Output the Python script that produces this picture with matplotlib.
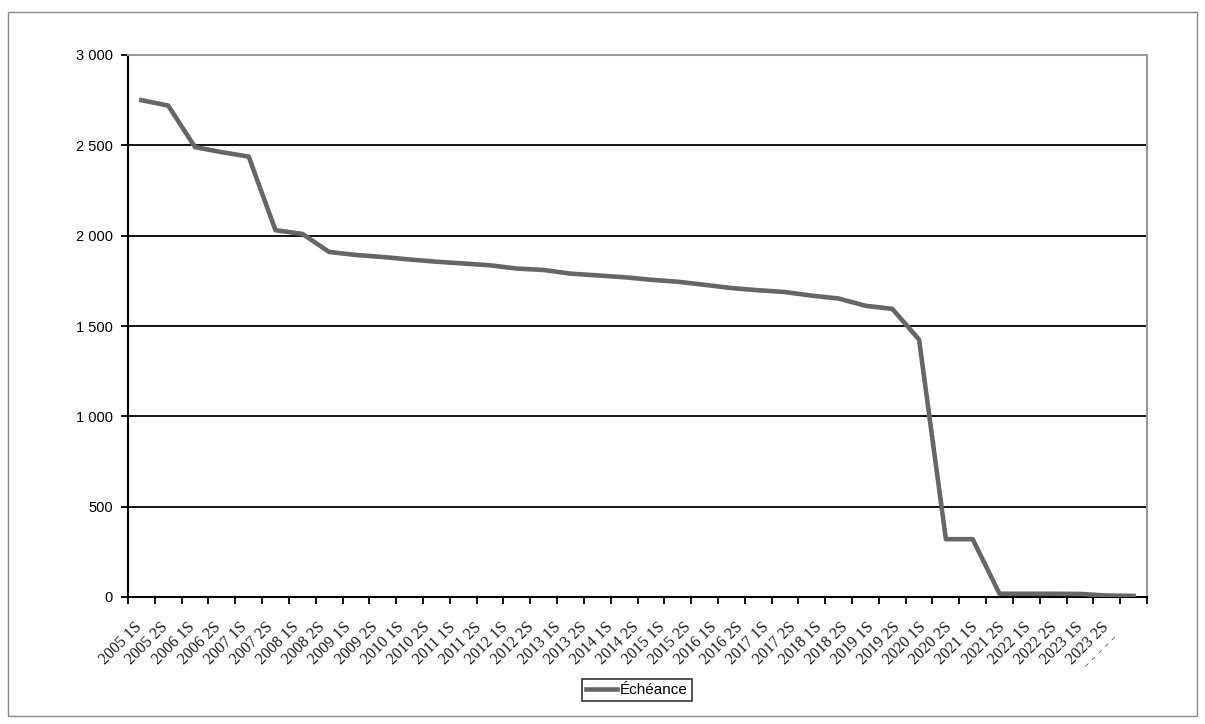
import matplotlib
matplotlib.use("Agg")
from matplotlib import pyplot as plt
from matplotlib.patches import Rectangle
import numpy as np

periods = ["2005 1S", "2005 2S", "2006 1S", "2006 2S", "2007 1S", "2007 2S",
           "2008 1S", "2008 2S", "2009 1S", "2009 2S", "2010 1S", "2010 2S",
           "2011 1S", "2011 2S", "2012 1S", "2012 2S", "2013 1S", "2013 2S",
           "2014 1S", "2014 2S", "2015 1S", "2015 2S", "2016 1S", "2016 2S",
           "2017 1S", "2017 2S", "2018 1S", "2018 2S", "2019 1S", "2019 2S",
           "2020 1S", "2020 2S", "2021 1S", "2021 2S", "2022 1S", "2022 2S",
           "2023 1S", "2023 2S"]

echeance = [2750, 2720, 2490, 2462, 2438, 2030, 2010, 1910, 1893, 1882,
            1868, 1856, 1846, 1836, 1818, 1810, 1790, 1780, 1770, 1756,
            1745, 1728, 1710, 1698, 1688, 1668, 1652, 1612, 1595, 1425,
            320, 320, 18, 18, 18, 17, 8, 6]

yticks = [0, 500, 1000, 1500, 2000, 2500, 3000]

W, H = 1205, 724
fig = plt.figure(figsize=(W / 100, H / 100), dpi=100)
ax = fig.add_axes([128 / W, 1 - 597 / H, (1147 - 128) / W, (597 - 55) / H])

x = np.arange(len(echeance))
ax.plot(x, echeance, color="#666666", lw=3.3, label="Échéance", zorder=3)

ax.set_xlim(-0.5, len(echeance) - 0.5)
ax.set_ylim(0, 3000)

# horizontal grid
for v in yticks[1:-1]:
    ax.axhline(v, color="black", lw=1.3, zorder=1)

ax.set_yticks(yticks)
ax.set_yticklabels([f"{v:,}".replace(",", " ") for v in yticks],
                   family="Liberation Sans", fontsize=10.5)
ax.tick_params(axis="y", length=5, width=1.3, direction="out", pad=6)

# tick marks between categories, labels spread along the axis
ax.set_xticks(np.arange(-0.5, len(echeance), 1))
ax.set_xticklabels([])
ax.tick_params(axis="x", which="major", length=5, width=1.3, direction="out")
n_lab = len(periods) + 1
lab_pos = -0.5 + (np.arange(len(periods)) + 0.5) * len(echeance) / n_lab - 0.25
ax.set_xticks(lab_pos, minor=True)
ax.set_xticklabels(periods, minor=True, rotation=45, ha="right",
                   rotation_mode="anchor", family="Liberation Serif",
                   fontsize=11.5, color="#1a1a1a")
ax.tick_params(axis="x", which="minor", length=0, pad=16)

ax.annotate("- - - - -", xy=(36.1, 0), xycoords=("data", "axes fraction"),
            xytext=(0, -24), textcoords="offset points", rotation=45,
            ha="right", va="top", rotation_mode="anchor",
            family="Liberation Serif", fontsize=11.5, color="#333333")

for side in ("left", "bottom"):
    ax.spines[side].set_color("black")
    ax.spines[side].set_linewidth(1.5)
for side in ("top", "right"):
    ax.spines[side].set_color("#9a9a9a")
    ax.spines[side].set_linewidth(1.5)

leg = fig.legend(loc="center", bbox_to_anchor=(637 / W, 1 - 690 / H),
                 frameon=True, fancybox=False, handlelength=2.0,
                 handletextpad=0.2, borderpad=0.25, borderaxespad=0,
                 prop={"family": "Liberation Sans", "size": 11})
leg.get_frame().set_edgecolor("black")
leg.get_frame().set_linewidth(1.2)

fig.patches.append(Rectangle((8 / W, 1 - 716 / H), (1197 - 8) / W, (716 - 12) / H,
                             transform=fig.transFigure, fill=False,
                             edgecolor="#888888", lw=1.0))

fig.savefig("out.png", dpi=100)
